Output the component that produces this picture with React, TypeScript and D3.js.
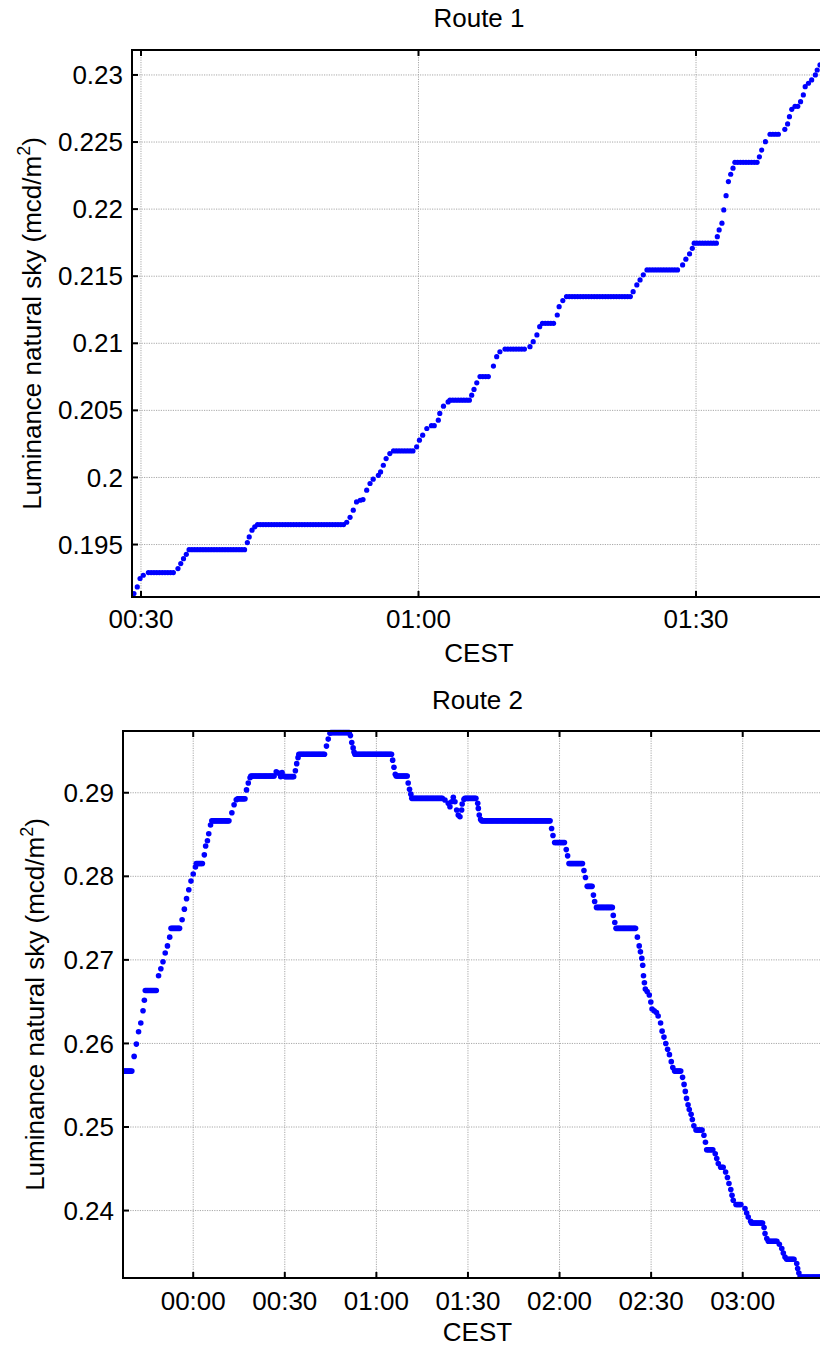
import React from 'react';
import * as d3 from 'd3';

// Each entry: [startMinute, endMinute, value] (minutes after 00:00 CEST). A single reading has start === end;
// a plateau reading holds the same value over the span (one logged dot per sample interval).
const route1Readings: [number, number, number][] = [
  [29.24, 29.24, 0.19135], [29.6, 29.6, 0.19184], [29.9, 29.9, 0.19247], [30.25, 30.25, 0.19271],
  [30.8, 33.7, 0.19291], [34.0, 34.0, 0.19321], [34.3, 34.3, 0.19358], [34.6, 34.6, 0.19395],
  [34.9, 34.9, 0.19427], [35.2, 41.4, 0.19462], [41.5, 41.5, 0.19515], [41.7, 41.7, 0.19557],
  [42.0, 42.0, 0.19607], [42.3, 42.3, 0.19632], [42.6, 51.9, 0.19649], [52.24, 52.24, 0.19666],
  [52.6, 52.6, 0.19703], [52.95, 52.95, 0.19756], [53.3, 53.3, 0.19818], [53.7, 53.7, 0.1983],
  [54.0, 54.0, 0.19835], [54.4, 54.4, 0.19905], [54.76, 54.76, 0.19955], [55.1, 55.1, 0.19987],
  [55.66, 55.66, 0.20016], [55.9, 55.9, 0.20041], [56.2, 56.2, 0.20091], [56.5, 56.5, 0.20141],
  [56.9, 56.9, 0.20178], [57.3, 59.6, 0.20198], [59.8, 59.8, 0.20228], [60.1, 60.1, 0.20278],
  [60.45, 60.45, 0.20315], [60.9, 60.9, 0.20365], [61.4, 61.9, 0.20386], [62.14, 62.14, 0.20427],
  [62.3, 62.3, 0.20477], [62.7, 62.7, 0.20531], [63.2, 63.2, 0.20563], [63.4, 65.6, 0.20576],
  [65.75, 65.75, 0.20613], [66.0, 66.0, 0.20656], [66.3, 66.3, 0.20705], [66.65, 67.7, 0.20752],
  [68.1, 68.1, 0.2083], [68.45, 68.45, 0.209], [68.8, 68.8, 0.20937], [69.35, 71.7, 0.20957],
  [72.05, 72.05, 0.20975], [72.4, 72.4, 0.21012], [72.8, 72.8, 0.21062], [73.1, 73.1, 0.21124],
  [73.4, 74.8, 0.21149], [75.0, 75.0, 0.21211], [75.2, 75.2, 0.21273], [75.6, 75.6, 0.21318],
  [76.0, 82.9, 0.21348], [83.2, 83.2, 0.21385], [83.6, 83.6, 0.21435], [83.95, 83.95, 0.21472],
  [84.3, 84.3, 0.2151], [84.7, 88.2, 0.21547], [88.55, 88.55, 0.21584], [88.9, 88.9, 0.21627],
  [89.3, 89.3, 0.21666], [89.6, 89.6, 0.21708], [89.8, 92.2, 0.21746], [92.3, 92.3, 0.21795],
  [92.5, 92.5, 0.21845], [92.8, 92.8, 0.21895], [93.0, 93.0, 0.21994], [93.25, 93.25, 0.221],
  [93.5, 93.5, 0.22205], [93.75, 93.75, 0.2226], [94.0, 94.0, 0.22305], [94.2, 96.6, 0.22349],
  [96.85, 96.85, 0.2239], [97.1, 97.1, 0.2244], [97.5, 97.5, 0.22503], [98.0, 99.15, 0.22558],
  [99.6, 99.6, 0.22595], [99.9, 99.9, 0.22635], [100.1, 100.1, 0.22689], [100.35, 100.35, 0.22744],
  [100.7, 101.2, 0.22766], [101.3, 101.3, 0.22801], [101.6, 101.6, 0.22851], [101.8, 101.8, 0.22913],
  [102.15, 102.15, 0.22938], [102.5, 102.5, 0.22963], [102.9, 102.9, 0.23], [103.1, 103.1, 0.23037],
  [103.4, 103.4, 0.23075],
];

const route2Readings: [number, number, number][] = [
  [-22.9, -19.8, 0.25669], [-19.35, -19.35, 0.25845], [-18.62, -18.62, 0.25992], [-17.9, -17.9, 0.26139],
  [-17.17, -17.17, 0.26244], [-16.44, -16.44, 0.26391], [-16.0, -16.0, 0.26517], [-15.7, -12.1, 0.26634],
  [-11.35, -11.35, 0.2681], [-10.6, -10.6, 0.26894], [-9.9, -9.9, 0.26978], [-9.17, -9.17, 0.27083],
  [-8.44, -8.44, 0.27167], [-7.7, -7.7, 0.27272], [-7.27, -4.37, 0.27377], [-3.64, -3.64, 0.27481],
  [-2.9, -2.9, 0.27607], [-2.18, -2.18, 0.27733], [-1.45, -1.45, 0.2784], [-0.73, -0.73, 0.27943],
  [0, 0, 0.28027], [0.73, 0.73, 0.28111], [1.0, 3.2, 0.28153], [3.64, 3.64, 0.28257],
  [4.07, 4.07, 0.28362], [4.66, 4.66, 0.28425], [5.09, 5.09, 0.28509], [5.67, 5.67, 0.28614],
  [6.1, 11.9, 0.28664], [12.66, 12.66, 0.28761], [13.39, 13.39, 0.28857], [14.1, 14.1, 0.28916],
  [14.55, 17.0, 0.28929], [17.46, 17.46, 0.29034], [18.04, 18.04, 0.29117], [18.62, 18.62, 0.2918],
  [18.9, 26.5, 0.29201], [27.2, 27.2, 0.29252], [27.9, 27.9, 0.29235], [28.66, 28.66, 0.29193],
  [29.1, 29.1, 0.29243], [29.68, 29.68, 0.29201], [30.1, 33.0, 0.29193], [33.47, 33.47, 0.29264],
  [33.9, 33.9, 0.29348], [34.34, 34.34, 0.2942], [34.6, 43.2, 0.29461], [43.65, 43.65, 0.29558],
  [44.23, 44.23, 0.29642], [44.8, 44.8, 0.29713], [45.1, 51.2, 0.2972], [51.5, 51.5, 0.29684],
  [51.94, 51.94, 0.296], [52.38, 52.38, 0.29537], [52.67, 52.67, 0.29487], [52.96, 65.04, 0.29461],
  [65.33, 65.33, 0.2939], [65.76, 65.76, 0.29306], [66.2, 66.2, 0.29222], [66.5, 70.1, 0.29201],
  [70.42, 70.42, 0.29117], [70.86, 70.86, 0.29042], [71.3, 71.3, 0.28983], [71.6, 81.9, 0.28933],
  [82.46, 82.46, 0.28913], [83.55, 83.55, 0.28873], [84.1, 84.1, 0.28832], [84.66, 84.66, 0.28892],
  [85.2, 85.2, 0.28945], [85.74, 85.74, 0.28892], [86.3, 86.3, 0.28793], [86.82, 86.82, 0.28733],
  [87.38, 87.38, 0.28713], [87.93, 87.93, 0.28793], [88.1, 88.1, 0.28865], [88.69, 88.69, 0.28921],
  [89.0, 92.85, 0.28933], [93.2, 93.2, 0.28873], [93.4, 93.4, 0.28813], [93.7, 93.7, 0.28733],
  [94.15, 94.15, 0.28681], [94.5, 117.0, 0.28664], [117.4, 117.4, 0.28572], [117.85, 117.85, 0.28488],
  [118.4, 121.8, 0.28404], [122.2, 122.2, 0.2832], [122.65, 122.65, 0.28245], [123.1, 127.6, 0.28153],
  [128.0, 128.0, 0.28069], [128.5, 128.5, 0.27985], [129.06, 130.8, 0.2788], [131.1, 131.1, 0.27775],
  [131.5, 131.5, 0.27699], [132.1, 137.35, 0.27628], [137.6, 137.6, 0.27532], [138.1, 138.1, 0.27448],
  [138.5, 145.1, 0.27377], [145.5, 145.5, 0.27272], [146.1, 146.1, 0.27167], [146.5, 146.5, 0.27096],
  [146.95, 146.95, 0.2702], [147.25, 147.25, 0.26936], [147.5, 147.5, 0.2681], [147.8, 147.8, 0.26726],
  [148.1, 148.1, 0.26651], [148.7, 148.7, 0.26621], [149.4, 149.4, 0.26579], [149.9, 149.9, 0.26496],
  [150.3, 150.3, 0.26412], [151.0, 151.0, 0.26391], [151.75, 151.75, 0.2637], [152.3, 152.3, 0.26328],
  [153.1, 153.1, 0.26244], [153.6, 153.6, 0.26147], [154.2, 154.2, 0.26076], [154.8, 154.8, 0.26],
  [155.4, 155.4, 0.25929], [156.0, 156.0, 0.25866], [156.6, 156.6, 0.25782], [157.1, 157.1, 0.25711],
  [157.7, 160.0, 0.25669], [160.3, 160.3, 0.25594], [160.8, 160.8, 0.2551], [161.2, 161.2, 0.25426],
  [161.6, 161.6, 0.25342], [162.1, 162.1, 0.25266], [162.5, 162.5, 0.25208], [163.1, 163.1, 0.25153],
  [163.5, 163.5, 0.2509], [164.0, 164.0, 0.25015], [164.7, 166.9, 0.24964], [167.3, 167.3, 0.24901],
  [167.8, 167.8, 0.24818], [168.2, 170.4, 0.24728], [171.0, 171.0, 0.2468], [171.5, 171.5, 0.24623],
  [172.0, 172.0, 0.24563], [172.8, 173.9, 0.24518], [174.4, 174.4, 0.24462], [175.0, 175.0, 0.24395],
  [175.5, 175.5, 0.24323], [176.1, 176.1, 0.24251], [176.5, 176.5, 0.24183], [176.9, 176.9, 0.24123],
  [177.8, 179.7, 0.24072], [180.75, 180.75, 0.24024], [181.3, 181.3, 0.23971], [181.8, 181.8, 0.23923],
  [182.6, 182.6, 0.23872], [182.9, 186.5, 0.23852], [187.0, 187.0, 0.23797], [187.3, 187.3, 0.23725],
  [187.9, 187.9, 0.23665], [188.4, 191.3, 0.23633], [192.0, 192.0, 0.23596], [192.8, 192.8, 0.23545],
  [193.3, 193.3, 0.23492], [193.85, 193.85, 0.23444], [194.4, 197.1, 0.23417], [197.7, 197.7, 0.23366],
  [198.0, 198.0, 0.23306], [198.4, 198.4, 0.23253], [198.8, 212.0, 0.23205],
];

const route1XTicks = [30, 60, 90];
const route1YTicks = [0.195, 0.2, 0.205, 0.21, 0.215, 0.22, 0.225, 0.23];
const route2XTicks = [0, 30, 60, 90, 120, 150, 180];
const route2YTicks = [0.24, 0.25, 0.26, 0.27, 0.28, 0.29];

const FONT = "'Liberation Sans', Arial, Helvetica, sans-serif";

function expand(readings: [number, number, number][], step: number): [number, number][] {
  const out: [number, number][] = [];
  for (const [a, b, v] of readings) {
    if (b <= a) { out.push([a, v]); continue; }
    for (let t = a; t <= b + 1e-9; t += step) out.push([t, v]);
  }
  return out;
}

function fmtTime(t: number): string {
  const m = ((Math.round(t) % 1440) + 1440) % 1440;
  const hh = Math.floor(m / 60);
  const mm = m % 60;
  return `${String(hh).padStart(2, '0')}:${String(mm).padStart(2, '0')}`;
}

interface PanelProps {
  title: string;
  readings: [number, number, number][];
  step: number;
  radius: number;
  xDomain: [number, number];
  yDomain: [number, number];
  xTicks: number[];
  yTicks: number[];
  box: { x0: number; x1: number; y0: number; y1: number };
  titleY: number;
  tickLabelY: number;
  xLabelY: number;
  yLabelX: number;
}

function Panel(p: PanelProps) {
  const { x0, x1, y0, y1 } = p.box;
  const x = d3.scaleLinear().domain(p.xDomain).range([x0, x1]);
  const y = d3.scaleLinear().domain(p.yDomain).range([y1, y0]);
  const pts = expand(p.readings, p.step);
  const cx = (x0 + x1) / 2;
  const cy = (y0 + y1) / 2;
  const clipId = `clip-${p.title.replace(/\s/g, '')}`;
  return (
    <g>
      <defs>
        <clipPath id={clipId}>
          <rect x={x0} y={y0 - 3} width={x1 - x0} height={y1 - y0 + 3} />
        </clipPath>
      </defs>
      {p.xTicks.map((t) => (
        <line key={`gx${t}`} x1={x(t)} x2={x(t)} y1={y0} y2={y1} stroke="#a8a8a8" strokeWidth={1} strokeDasharray="1.2,1.2" />
      ))}
      {p.yTicks.map((v) => (
        <line key={`gy${v}`} x1={x0} x2={x1} y1={y(v)} y2={y(v)} stroke="#a8a8a8" strokeWidth={1} strokeDasharray="1.2,1.2" />
      ))}
      <g clipPath={`url(#${clipId})`}>
        {pts.map((d, i) => (
          <circle key={i} cx={x(d[0])} cy={y(d[1])} r={p.radius} fill="#0000ff" />
        ))}
      </g>
      <rect x={x0} y={y0} width={x1 - x0} height={y1 - y0} fill="none" stroke="#000" strokeWidth={2} />
      {p.xTicks.map((t) => (
        <g key={`tx${t}`}>
          <line x1={x(t)} x2={x(t)} y1={y1} y2={y1 - 6} stroke="#000" strokeWidth={2} />
          <line x1={x(t)} x2={x(t)} y1={y0} y2={y0 + 6} stroke="#000" strokeWidth={2} />
          <text x={x(t)} y={p.tickLabelY} textAnchor="middle" fontFamily={FONT} fontSize={26} fill="#000">
            {fmtTime(t)}
          </text>
        </g>
      ))}
      {p.yTicks.map((v) => (
        <g key={`ty${v}`}>
          <line x1={x0} x2={x0 + 6} y1={y(v)} y2={y(v)} stroke="#000" strokeWidth={2} />
          <line x1={x1} x2={x1 - 6} y1={y(v)} y2={y(v)} stroke="#000" strokeWidth={2} />
          <text x={x0 - 9} y={y(v)} dy="0.35em" textAnchor="end" fontFamily={FONT} fontSize={26} fill="#000">
            {String(v)}
          </text>
        </g>
      ))}
      <text x={cx} y={p.titleY} textAnchor="middle" fontFamily={FONT} fontSize={26} fill="#000">{p.title}</text>
      <text x={cx} y={p.xLabelY} textAnchor="middle" fontFamily={FONT} fontSize={26} fill="#000">CEST</text>
      <text transform={`translate(${p.yLabelX},${cy}) rotate(-90)`} textAnchor="middle" fontFamily={FONT} fontSize={26} fill="#000">
        Luminance natural sky (mcd/m<tspan dy={-11} fontSize={18}>2</tspan><tspan dy={11}>)</tspan>
      </text>
    </g>
  );
}

export default function App() {
  return (
    <svg width={820} height={1349} style={{ position: 'absolute', left: 0, top: 0, background: '#fff' }}>
      <rect x={0} y={0} width={820} height={1349} fill="#fff" />
      <Panel
        title="Route 1"
        readings={route1Readings}
        step={0.3}
        radius={2.6}
        xDomain={[29.03, 104.05]}
        yDomain={[0.19109, 0.23186]}
        xTicks={route1XTicks}
        yTicks={route1YTicks}
        box={{ x0: 132, x1: 826, y0: 50, y1: 597 }}
        titleY={27}
        tickLabelY={628}
        xLabelY={662}
        yLabelX={41}
      />
      <Panel
        title="Route 2"
        readings={route2Readings}
        step={0.4}
        radius={2.8}
        xDomain={[-23.0, 209.25]}
        yDomain={[0.23193, 0.29739]}
        xTicks={route2XTicks}
        yTicks={route2YTicks}
        box={{ x0: 123, x1: 832, y0: 731, y1: 1278 }}
        titleY={709}
        tickLabelY={1310}
        xLabelY={1341}
        yLabelX={44}
      />
    </svg>
  );
}
